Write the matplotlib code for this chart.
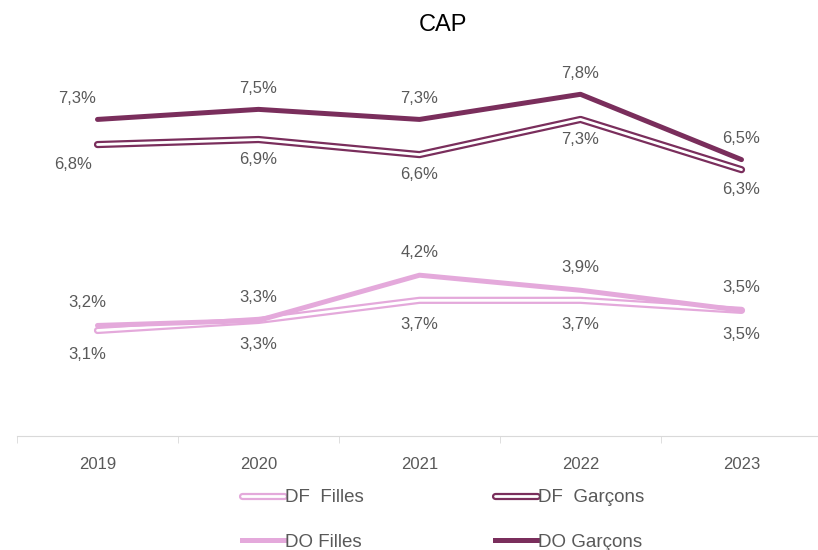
import matplotlib.pyplot as plt
from matplotlib.lines import Line2D
from matplotlib.legend_handler import HandlerTuple

plt.rcParams['font.family'] = ['Liberation Sans', 'DejaVu Sans']

years = ['2019', '2020', '2021', '2022', '2023']
df_filles = [3.1, 3.3, 3.7, 3.7, 3.5]
df_garcons = [6.8, 6.9, 6.6, 7.3, 6.3]
do_filles = [3.2, 3.3, 4.2, 3.9, 3.5]
do_garcons = [7.3, 7.5, 7.3, 7.8, 6.5]

dark = '#7a2e5c'
light = '#e4a9db'
grey = '#595959'

fig = plt.figure(figsize=(8.18, 5.5), dpi=100)
ax = fig.add_axes([17 / 818, 1 - 436 / 550, 805 / 818, 402 / 550])
x = list(range(len(years)))

# DF lines are drawn as hollow double lines: coloured outer, white core
for vals, c in [(df_garcons, dark), (df_filles, light)]:
    ax.plot(x, vals, color=c, lw=5.2, solid_capstyle='round', solid_joinstyle='round', zorder=2)
    ax.plot(x, vals, color='white', lw=2, solid_capstyle='round', solid_joinstyle='round', zorder=3)
ax.plot(x, do_garcons, color=dark, lw=3.6, solid_capstyle='round', solid_joinstyle='round', zorder=4)
ax.plot(x, do_filles, color=light, lw=3.6, solid_capstyle='round', solid_joinstyle='round', zorder=4)

def fmt(v):
    return f"{v:.1f}".replace('.', ',') + '%'

def label(vals, dy, dx0):
    for i, v in enumerate(vals):
        dx = dx0 if i == 0 else 0
        ax.annotate(fmt(v), (i, v), xytext=(dx, dy), textcoords='offset pixels',
                    ha='center', va='center', fontsize=12, color=grey)

label(do_garcons, 21, -20)
label(df_garcons, -20, -24)
label(do_filles, 23, -10)
label(df_filles, -24, -10)

ax.set_xlim(-0.5, 4.5)
ax.set_ylim(1, 9)
ax.set_yticks([])
for s in ['top', 'right', 'left']:
    ax.spines[s].set_visible(False)
ax.spines['bottom'].set_color('#d9d9d9')
ax.set_xticks(x)
ax.set_xticklabels(years, fontsize=12, color=grey)
ax.tick_params(axis='x', which='major', length=0, pad=15)
ax.set_xticks([i - 0.5 for i in range(len(years) + 1)], minor=True)
ax.tick_params(axis='x', which='minor', length=5, color='#d9d9d9')

fig.text(443 / 818, 1 - 25 / 550, 'CAP', ha='center', va='center', fontsize=17, color='black')

def double(c):
    return (Line2D([], [], color=c, lw=5.2, solid_capstyle='round'),
            Line2D([], [], color='white', lw=2, solid_capstyle='round'))

handles = [double(light), Line2D([], [], color=light, lw=3.6),
           double(dark), Line2D([], [], color=dark, lw=3.6)]
labels = ['DF  Filles', 'DO Filles', 'DF  Garçons', 'DO Garçons']
leg = fig.legend(handles, labels, ncol=2, loc='center left',
                 bbox_to_anchor=(225 / 818, 1 - 520 / 550), frameon=False,
                 fontsize=13.5, labelcolor=grey, handlelength=2.25, handletextpad=0.05,
                 columnspacing=7.0, labelspacing=1.45,
                 handler_map={tuple: HandlerTuple(ndivide=1, pad=0)})

fig.savefig('out.png', dpi=100)
